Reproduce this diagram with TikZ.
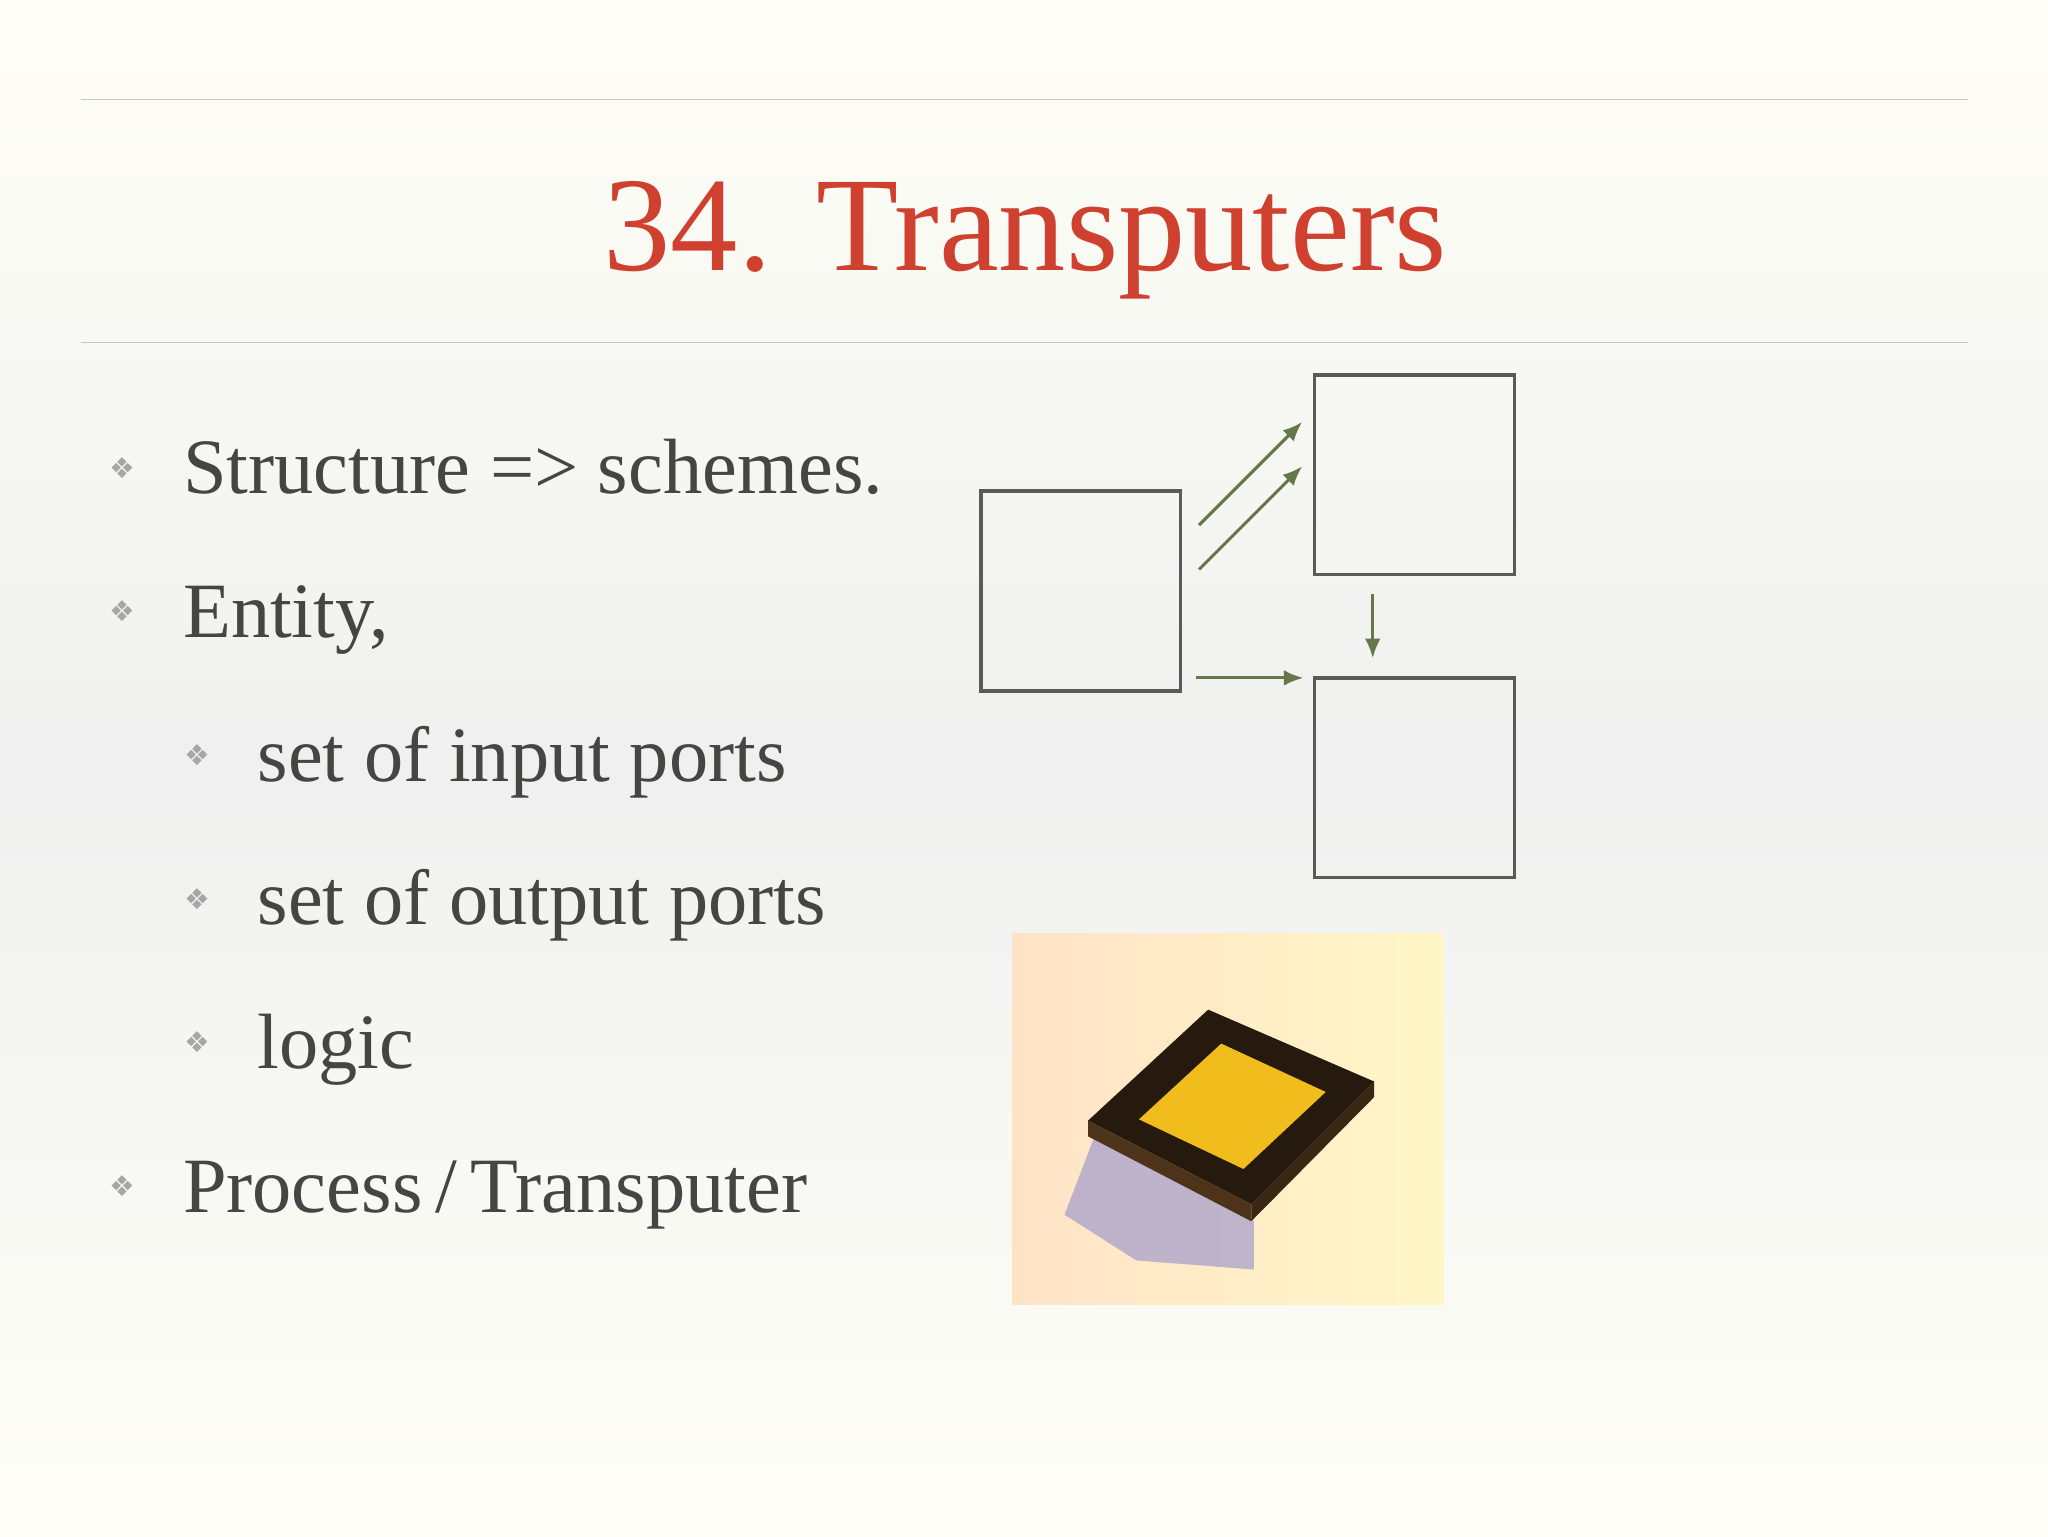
\documentclass[tikz,border=0pt]{standalone}
\usepackage{fontspec}
\usetikzlibrary{arrows.meta}
\setmainfont{Liberation Serif}
\newfontfamily\symf{DejaVu Sans}
\definecolor{ttl}{HTML}{D0402F}
\definecolor{txt}{HTML}{454544}
\definecolor{arr}{HTML}{66784A}
\definecolor{bx}{HTML}{5A5A58}
\begin{document}
\begin{tikzpicture}[x=1pt,y=-1pt,
  bul/.style={anchor=base west,text=txt,font=\fontsize{60}{66}\selectfont,inner sep=0},
  dia/.style={anchor=base west,text=gray!70,font=\symf\fontsize{22}{26}\selectfont,inner sep=0},
  sq/.style={draw=bx,line width=2.5pt},
  ar/.style={draw=arr,line width=2.4pt,-{Latex[length=15pt,width=12pt]}}]
\shade[top color=white!60!yellow!8!white, bottom color=white!97!yellow, middle color=gray!12] (0,0) rectangle (1568,1176);
\useasboundingbox (0,0) rectangle (1568,1176);
\draw[gray!45,line width=1pt] (62,76) -- (1507,76);
\draw[gray!45,line width=1pt] (62,262) -- (1507,262);
\node[anchor=base,text=ttl,font=\fontsize{103}{110}\selectfont,inner sep=0] (title) at (785,207) {34. Transputers};
\node[dia] (d1) at (84,366) {❖}; \node[bul] (t1) at (140,378) {Structure => schemes.};
\node[dia] (d2) at (84,476) {❖}; \node[bul] (t2) at (140,488) {Entity,};
\node[dia] (d3) at (141,586) {❖}; \node[bul] (t3) at (197,598) {set of input ports};
\node[dia] (d4) at (141,696) {❖}; \node[bul] (t4) at (197,708) {set of output ports};
\node[dia] (d5) at (141,806) {❖}; \node[bul] (t5) at (197,818) {logic};
\node[dia] (d6) at (84,916) {❖}; \node[bul] (t6) at (140,928) {Process\,/\,Transputer};
\node[sq,minimum size=153pt,inner sep=0] (b1) at (827.5,452.5) {};
\node[sq,minimum size=153pt,inner sep=0] (b2) at (1083,363.5) {};
\node[sq,minimum size=153pt,inner sep=0] (b3) at (1083,595.5) {};
\coordinate (a1s) at (918,402); \coordinate (a1e) at (997,323);
\coordinate (a2s) at (918,436); \coordinate (a2e) at (997,357);
\coordinate (a3s) at (916,519); \coordinate (a3e) at (998,519);
\coordinate (a4s) at (1051,455); \coordinate (a4e) at (1051,504);
\draw[ar] (a1s) -- (a1e); \draw[ar] (a2s) -- (a2e);
\draw[ar] (a3s) -- (a3e); \draw[ar] (a4s) -- (a4e);
% photo
\shade[left color=orange!22!white, right color=orange!30!yellow!22!white] (775,715) rectangle (1105,999);
\fill[blue!45!gray!70,opacity=0.5] (838,870) -- (815,930) -- (870,965) -- (960,972) -- (960,935) -- cycle;
\fill[black!80!brown] (833,858) -- (925,773) -- (1052,828) -- (958,922) -- cycle;
\fill[black!60!brown] (833,858) -- (958,922) -- (958,935) -- (833,870) -- cycle;
\fill[black!70!brown] (958,922) -- (1052,828) -- (1052,840) -- (958,935) -- cycle;
\fill[yellow!60!orange!80!brown] (872,857) -- (935,799) -- (1015,836) -- (952,895) -- cycle;
\end{tikzpicture}
\end{document}
